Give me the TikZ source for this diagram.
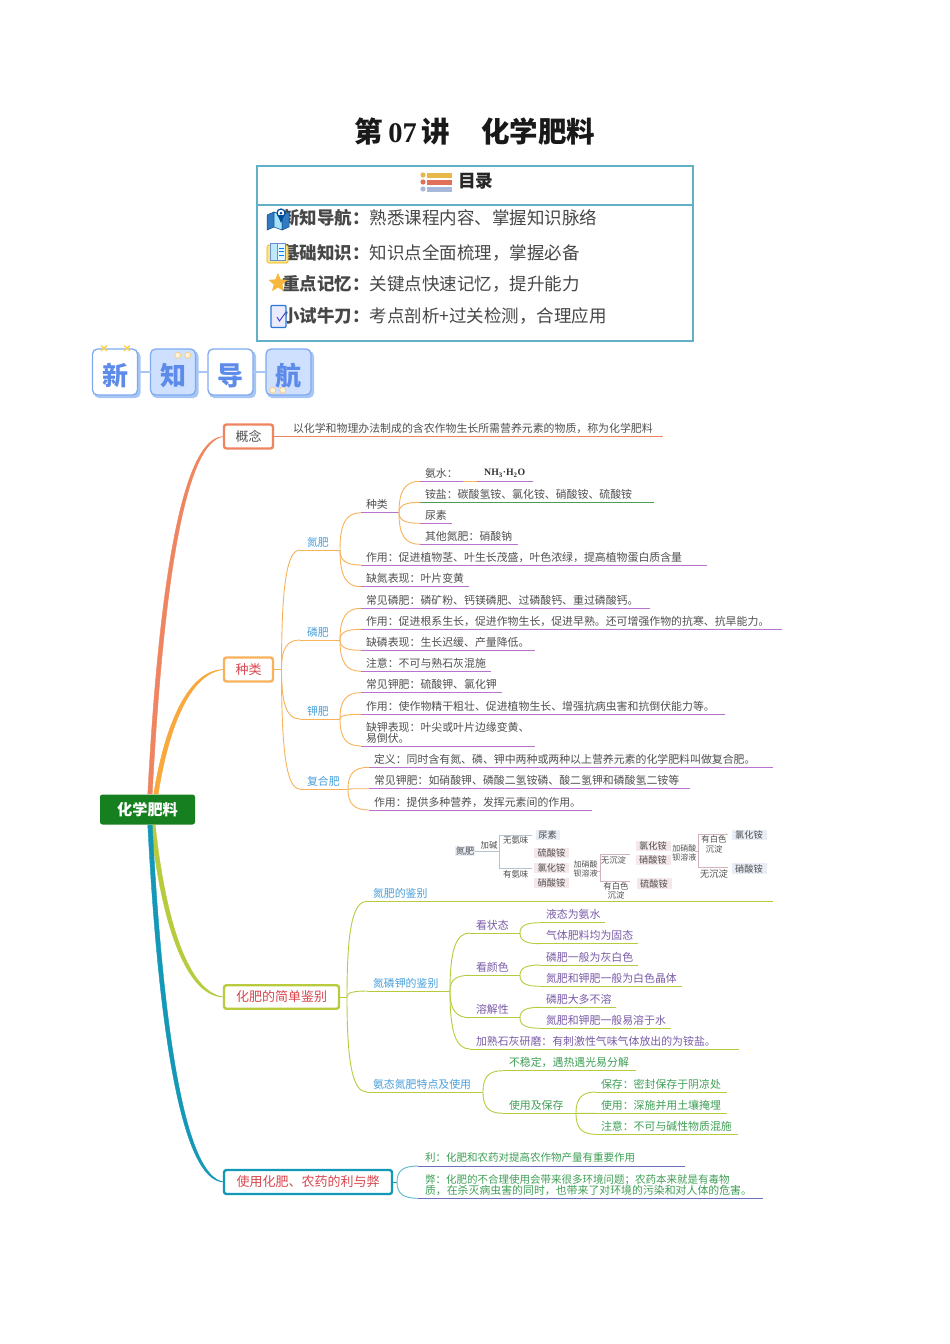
\documentclass[tikz,border=0pt]{standalone}
\usepackage{fontspec}
\setmainfont{Noto Sans CJK SC}
\newfontfamily\serifl{Liberation Serif}
\usetikzlibrary{calc,shapes.geometric}
\definecolor{cOra}{HTML}{F7B25A}
\definecolor{cOraT}{HTML}{F9A83C}
\definecolor{cRed}{HTML}{EE8560}
\definecolor{cYel}{HTML}{B7CB3C}
\definecolor{cBlu}{HTML}{1398B8}
\definecolor{cPur}{HTML}{B774CC}
\definecolor{cGrn}{HTML}{168020}
\definecolor{cTeal}{HTML}{62B0C6}
\definecolor{tGray}{HTML}{505050}
\definecolor{tBlue}{HTML}{4AA0DC}
\definecolor{tPur}{HTML}{7A5CA8}
\definecolor{tGrn}{HTML}{3F9F55}
\definecolor{tRed}{HTML}{D9464E}
\definecolor{lGrn}{HTML}{4E9C55}
\definecolor{lInd}{HTML}{6A70B8}
\definecolor{bBlue}{HTML}{E9EDF6}
\definecolor{bPink}{HTML}{F4E8EA}
\definecolor{fkA}{HTML}{B4C3D2}
\definecolor{fkB}{HTML}{D3B2B9}
\definecolor{hdB}{HTML}{7FAAF0}
\definecolor{hdS}{HTML}{A8C6F4}
\definecolor{hdF}{HTML}{CFE0FF}
\definecolor{hdT}{HTML}{5D8BEA}
\definecolor{cream}{HTML}{FFF3D8}
\definecolor{creamB}{HTML}{F3CF95}
\definecolor{barA}{HTML}{E8B84A}
\definecolor{barB}{HTML}{E0705A}
\definecolor{barC}{HTML}{A8B8DC}
\definecolor{starC}{HTML}{F6B73C}
\tikzset{
  leaftxt/.style={inner sep=0pt,outer sep=0pt,font=\fontsize{10.9}{11.2}\selectfont,align=left},
  bigbox/.style={draw,rounded corners=2.5pt,line width=2.4pt,inner sep=0pt,outer sep=0pt,fill=white,text=tRed,font=\fontsize{13}{14}\selectfont},
  chartbox/.style={inner sep=0pt,outer sep=0pt,font=\fontsize{9.2}{10}\selectfont,text=tGray},
  charttxt/.style={inner sep=0pt,outer sep=0pt,font=\fontsize{8.4}{9.6}\selectfont,text=tGray,align=center},
  hdbox/.style={draw=hdB,line width=1.3pt,rounded corners=5pt,minimum width=45pt,minimum height=46pt,inner sep=0pt,outer sep=0pt,text=hdT,text height=28pt,text depth=2pt,font=\bfseries\fontsize{26}{28}\selectfont},
  hdshadow/.style={fill=hdS,rounded corners=5pt},
  hdlink/.style={draw=hdS,line width=2.6pt},
  tocrow/.style={inner sep=0pt,outer sep=0pt,anchor=west,text=black!72,font=\fontsize{17.5}{19}\selectfont},
  dotcream/.style={fill=cream,draw=creamB,line width=.9pt},
}
% [text centre above the line] name, x0, x1, yline, xtext, text colour, line colour, text
\newcommand{\leaf}[9][8]{%
  \coordinate (#2-a) at (#3,#5);
  \coordinate (#2-b) at (#4,#5);
  \node[leaftxt,text=#7,anchor=west] (#2) at (#6,#5-#1) {#9};
  \draw[#8,line width=.9pt] (#2-a) -- (#2-b);
}
\newcommand{\bcurve}[3]{\draw[#1,line width=.9pt] (#2) .. controls ($(#2)!0.72!(#2|-#3)$) and ($(#2|-#3)!0.3!(#3)$) .. (#3);}
% colour, start, control 1, control 2, end, offset of the return curve's second control
\newcommand{\taper}[6]{%
  \filldraw[#1,line width=.4pt] ($(#2)+(-2.2,0)$) .. controls ($(#3)+(-2,0)$) and (#4) .. (#5)
     .. controls ($(#4)+(#6)$) and ($(#3)+(2.4,0)$) .. ($(#2)+(2.2,0)$) -- cycle;}
\begin{document}
\begin{tikzpicture}[x=1pt,y=-1pt]
\path[use as bounding box,fill=white] (0,0) rectangle (950,1344);
% ---------- title
\node[inner sep=0pt,font=\bfseries\fontsize{28.5}{30}\selectfont,text=black!90] (title) at (475,132)
  {第\hspace{5pt}{\serifl 07}\hspace{5pt}讲\hspace{31pt}化学肥料};
% ---------- table of contents
\node[draw=cTeal,line width=1.5pt,minimum width=436pt,minimum height=175pt,inner sep=0pt,outer sep=0pt] (toc) at (475,253.5) {};
\coordinate (tocL) at (257,205); \coordinate (tocR) at (693,205);
\draw[cTeal,line width=1.2pt] (tocL) -- (tocR);
\node[inner sep=0pt,anchor=west,font=\bfseries\fontsize{17.7}{19}\selectfont,text=black!85] (toct) at (458,181) {目录};
\fill[barA] (423,175) circle (2.6pt); \fill[barA] (427,172.5) rectangle (452,177.5);
\fill[barB] (423,182) circle (2.6pt); \fill[barB] (427,179.5) rectangle (452,184.5);
\fill[barC] (423,189) circle (2.6pt); \fill[barC] (427,186.5) rectangle (452,191.5);
\node[tocrow] (r1) at (282,218) {{\bfseries 新知导航：}熟悉课程内容、掌握知识脉络};
\node[tocrow] (r2) at (282,253) {{\bfseries 基础知识：}知识点全面梳理，掌握必备};
\node[tocrow] (r3) at (282,284) {{\bfseries 重点记忆：}关键点快速记忆，提升能力};
\node[tocrow] (r4) at (282,316) {{\bfseries 小试牛刀：}考点剖析+过关检测，合理应用};
% toc icons
\filldraw[fill=blue!50!cyan!70!black!80,draw=blue!40!cyan!50!black,line width=.5pt] (267,215) -- (274,212) -- (274,227) -- (267,230) -- cycle;
\filldraw[fill=cyan!35!white,draw=blue!40!cyan!50!black,line width=.5pt] (274,212) -- (282,215) -- (282,230) -- (274,227) -- cycle;
\filldraw[fill=blue!50!cyan!70!black!80,draw=blue!40!cyan!50!black,line width=.5pt] (282,215) -- (289,212) -- (289,227) -- (282,230) -- cycle;
\filldraw[fill=white,draw=blue!50!cyan!60!black,line width=1.2pt] (281,213) circle (4pt);
\fill[blue!50!cyan!60!black] (277.5,215) -- (284.5,215) -- (281,223) -- cycle;
\fill[blue!50!cyan!60!black] (281,213) circle (1.5pt);
\filldraw[fill=orange!40!yellow!50!white,draw=orange!50!yellow!80!gray,line width=.7pt,rounded corners=1.5pt] (267,245) rectangle (288,263);
\filldraw[fill=cyan!25!white,draw=cyan!40!blue!60,line width=.6pt] (270,243.5) rectangle (277.5,260);
\filldraw[fill=cyan!10!white,draw=cyan!40!blue!60,line width=.6pt] (277.5,243.5) rectangle (285,260);
\draw[blue!50!cyan,line width=.6pt] (279,248) -- (283.5,248) (279,251.5) -- (283.5,251.5) (279,255) -- (283.5,255);
\node[star,star points=5,star point ratio=2.2,fill=starC,inner sep=0pt,minimum size=20pt] (ic3) at (278,283) {};
\filldraw[fill=blue!8!white,draw=blue!55!cyan!70!gray,line width=1.1pt,rounded corners=1pt] (271,305.5) rectangle (286,327.5);
\draw[blue!50!gray,line width=.9pt] (277,317) -- (279.5,321) -- (286,312);
% ---------- header tiles
\fill[hdshadow] (94,351) rectangle (140.5,398);
\fill[hdshadow] (151.5,351) rectangle (198.5,398);
\fill[hdshadow] (209,351) rectangle (256,398);
\fill[hdshadow] (267,351) rectangle (314,398);
\node[hdbox,fill=white] (h1) at (115,372) {新};
\node[hdbox,fill=hdF]   (h2) at (173,372) {知};
\node[hdbox,fill=white] (h3) at (230.5,372) {导};
\node[hdbox,fill=hdF]   (h4) at (288.5,372) {航};
\draw[hdlink] (h1) -- (h2);
\draw[hdlink] (h2) -- (h3);
\draw[hdlink] (h3) -- (h4);
\draw[orange!50!yellow!70,line width=1.3pt] (101,345.5) -- (107,351) (107,345.5) -- (101,351) (124,345.5) -- (130,351) (130,345.5) -- (124,351);
\filldraw[dotcream] (177.7,355.3) circle (3pt) (187.7,355.3) circle (3pt);
\filldraw[dotcream] (272.7,390.3) circle (3pt) (282.7,390.3) circle (3pt);
% ---------- main boxes
\node[fill=cGrn,rounded corners=2.5pt,minimum width=95pt,minimum height=30pt,inner sep=0pt,outer sep=0pt,text=white,font=\bfseries\fontsize{15.2}{16}\selectfont] (root) at (147.5,809.5) {化学肥料};
\node[bigbox,draw=cRed,minimum width=49pt,minimum height=24pt,text=tGray] (bA) at (248.5,436.5) {概念};
\node[bigbox,draw=cOra,minimum width=49pt,minimum height=24pt] (bB) at (248.5,669.5) {种类};
\node[bigbox,draw=cYel,minimum width=115pt,minimum height=23.5pt] (bC) at (281.5,997) {化肥的简单鉴别};
\node[bigbox,draw=cBlu,minimum width=168pt,minimum height=24pt] (bD) at (308,1182) {使用化肥、农药的利与弊};
% main tapered branches
\coordinate (rA) at (150,794); \coordinate (rB) at (156,794);
\coordinate (rC) at (153,825); \coordinate (rD) at (150,825);
\taper{cRed}{rA}{160,600}{180,436}{bA.west}{3,4}
\taper{cOraT}{rB}{165,735}{185,669.5}{bB.west}{2.5,3.5}
\taper{cYel}{rC}{163,920}{185,997}{bC.west}{3,-4}
\taper{cBlu}{rD}{160,1020}{180,1182}{bD.west}{3.5,-5}
% ---------- concept
\leaf{a1}{274}{663}{436.7}{293}{tGray}{cRed}{以化学和物理办法制成的含农作物生长所需营养元素的物质，称为化学肥料}
% ---------- kinds
\coordinate (jB) at (281.5,669.5);
\draw[cOra,line width=.9pt] (bB.east) -- (jB);
\leaf{n0}{300}{340}{550}{307}{tBlue}{cOra}{氮肥}
\leaf{p0}{300}{340}{640}{307}{tBlue}{cOra}{磷肥}
\leaf{k0}{300}{340}{719}{307}{tBlue}{cOra}{钾肥}
\leaf{f0}{300}{348}{789}{307}{tBlue}{cOra}{复合肥}
\bcurve{cOra}{jB}{n0-a}
\bcurve{cOra}{jB}{p0-a}
\bcurve{cOra}{jB}{k0-a}
\bcurve{cOra}{jB}{f0-a}
% nitrogen
\leaf{n1}{361}{399}{512.7}{366}{tGray}{cPur}{种类}
\leaf{n2}{361}{707}{565}{366}{tGray}{cPur}{作用：促进植物茎、叶生长茂盛，叶色浓绿，提高植物蛋白质含量}
\leaf{n3}{361}{469}{586.7}{366}{tGray}{cPur}{缺氮表现：叶片变黄}
\bcurve{cOra}{n0-b}{n1-a}
\bcurve{cOra}{n0-b}{n2-a}
\bcurve{cOra}{n0-b}{n3-a}
\leaf{n11}{420}{533}{481.3}{425}{tGray}{cPur}{氨水：}
\coordinate (n11p) at (463,481.3); \coordinate (n11q) at (477,481.3);
\draw[cOra,line width=.9pt] (n11p) -- (n11q);
\node[inner sep=0pt,anchor=west,text=black!80,font=\serifl\bfseries\fontsize{9.8}{11}\selectfont] (nh3) at (484,473.5) {NH\textsubscript{3}·H\textsubscript{2}O};
\leaf{n12}{420}{654}{502.3}{425}{tGray}{lGrn}{铵盐：碳酸氢铵、氯化铵、硝酸铵、硫酸铵}
\leaf{n13}{420}{452}{523.3}{425}{tGray}{cPur}{尿素}
\leaf{n14}{420}{518}{544.3}{425}{tGray}{cPur}{其他氮肥：硝酸钠}
\bcurve{cOra}{n1-b}{n11-a}
\bcurve{cOra}{n1-b}{n12-a}
\bcurve{cOra}{n1-b}{n13-a}
\bcurve{cOra}{n1-b}{n14-a}
% phosphorus
\leaf{p1}{361}{650}{608.3}{366}{tGray}{cPur}{常见磷肥：磷矿粉、钙镁磷肥、过磷酸钙、重过磷酸钙。}
\leaf{p2}{361}{782}{629.3}{366}{tGray}{cPur}{作用：促进根系生长，促进作物生长，促进早熟。还可增强作物的抗寒、抗旱能力。}
\leaf{p3}{361}{535}{650.3}{366}{tGray}{cPur}{缺磷表现：生长迟缓、产量降低。}
\leaf{p4}{361}{491}{671.3}{366}{tGray}{cPur}{注意：不可与熟石灰混施}
\bcurve{cOra}{p0-b}{p1-a}
\bcurve{cOra}{p0-b}{p2-a}
\bcurve{cOra}{p0-b}{p3-a}
\bcurve{cOra}{p0-b}{p4-a}
% potassium
\leaf{k1}{361}{502}{692.7}{366}{tGray}{cPur}{常见钾肥：硫酸钾、氯化钾}
\leaf{k2}{361}{725}{714.3}{366}{tGray}{cPur}{作用：使作物精干粗壮、促进植物生长、增强抗病虫害和抗倒伏能力等。}
\leaf[13.5]{k3}{361}{535}{746}{366}{tGray}{cPur}{缺钾表现：叶尖或叶片边缘变黄、\\易倒伏。}
\bcurve{cOra}{k0-b}{k1-a}
\bcurve{cOra}{k0-b}{k2-a}
\bcurve{cOra}{k0-b}{k3-a}
% compound
\leaf{f1}{369}{773}{767.3}{374}{tGray}{cPur}{定义：同时含有氮、磷、钾中两种或两种以上营养元素的化学肥料叫做复合肥。}
\leaf{f2}{369}{689.5}{788.7}{374}{tGray}{cPur}{常见钾肥：如硝酸钾、磷酸二氢铵磷、酸二氢钾和磷酸氢二铵等}
\leaf{f3}{369}{591.5}{810}{374}{tGray}{cPur}{作用：提供多种营养，发挥元素间的作用。}
\bcurve{cOra}{f0-b}{f1-a}
\bcurve{cOra}{f0-b}{f2-a}
\bcurve{cOra}{f0-b}{f3-a}
% ---------- chart
\node[chartbox,fill=bBlue,minimum width=20pt,minimum height=10pt] (c0) at (465,851) {氮肥};
\node[charttxt] (c1) at (489,845.7) {加碱};
\coordinate (fk1) at (499.3,851); \coordinate (fk1t) at (532,835); \coordinate (fk1b) at (532,868);
\draw[fkA,line width=.9pt] (c0.east) -- (fk1);
\draw[fkA,line width=.9pt] (fk1t) -- (fk1t-|fk1) -- (fk1b-|fk1) -- (fk1b);
\node[charttxt] (c2) at (515.7,840.7) {无氨味};
\node[charttxt] (c3) at (515.7,874) {有氨味};
\node[chartbox,fill=bBlue,minimum width=24pt,minimum height=10.5pt] (c4) at (547.5,835) {尿素};
\node[chartbox,fill=bPink,minimum width=35pt,minimum height=10pt] (c5) at (551.5,852.7) {硫酸铵};
\node[chartbox,fill=bPink,minimum width=35pt,minimum height=10pt] (c6) at (551.5,867.7) {氯化铵};
\node[chartbox,fill=bPink,minimum width=35pt,minimum height=10pt] (c7) at (551.5,882.5) {硝酸铵};
\node[charttxt,font=\fontsize{8}{9.4}\selectfont] (c8) at (585.7,869) {加硝酸\\钡溶液};
\coordinate (fk2) at (600,871.7); \coordinate (fk2s) at (596,871.7); \coordinate (fk2t) at (630,854.3); \coordinate (fk2b) at (630,881.7);
\draw[fkB,line width=.9pt] (fk2s) -- (fk2);
\draw[fkB,line width=.9pt] (fk2t) -- (fk2t-|fk2) -- (fk2b-|fk2) -- (fk2b);
\node[charttxt] (c9) at (613.5,860) {无沉淀};
\node[charttxt] (c10) at (616,890.7) {有白色\\沉淀};
\node[chartbox,fill=bPink,minimum width=35pt,minimum height=10pt] (c11) at (653,846) {氯化铵};
\node[chartbox,fill=bPink,minimum width=35pt,minimum height=10pt] (c12) at (653,859.5) {硝酸铵};
\node[chartbox,fill=bPink,minimum width=35pt,minimum height=10.5pt] (c13) at (654,883.5) {硫酸铵};
\node[charttxt,font=\fontsize{8}{9.4}\selectfont] (c14) at (684.3,852.7) {加硝酸\\钡溶液};
\coordinate (fk3) at (698.3,851); \coordinate (fk3s) at (695,851); \coordinate (fk3t) at (728,834.3); \coordinate (fk3b) at (728,867.7);
\draw[fkB,line width=.9pt] (fk3s) -- (fk3);
\draw[fkB,line width=.9pt] (fk3t) -- (fk3t-|fk3) -- (fk3b-|fk3) -- (fk3b);
\node[charttxt] (c15) at (714,844) {有白色\\沉淀};
\node[charttxt,font=\fontsize{9.3}{10}\selectfont] (c16) at (714,874.3) {无沉淀};
\node[chartbox,fill=bBlue,minimum width=35pt,minimum height=10.5pt] (c17) at (749,835) {氯化铵};
\node[chartbox,fill=bBlue,minimum width=35pt,minimum height=10.5pt] (c18) at (749,868.7) {硝酸铵};
% ---------- identification
\coordinate (jC) at (347,997);
\draw[cYel,line width=.9pt] (bC.east) -- (jC);
\leaf{i1}{367}{773}{901.3}{373}{tBlue}{cYel}{氮肥的鉴别}
\leaf{i2}{367}{450}{991}{373}{tBlue}{cYel}{氮磷钾的鉴别}
\leaf{i3}{367}{483}{1092}{373}{tBlue}{cYel}{氨态氮肥特点及使用}
\bcurve{cYel}{jC}{i1-a}
\bcurve{cYel}{jC}{i2-a}
\bcurve{cYel}{jC}{i3-a}
\leaf{s1}{470}{520}{933}{476}{tPur}{cYel}{看状态}
\leaf{s2}{470}{520}{975.3}{476}{tPur}{cYel}{看颜色}
\leaf{s3}{470}{520}{1017.7}{476}{tPur}{cYel}{溶解性}
\leaf{s4}{470}{739}{1049}{476}{tPur}{cYel}{加熟石灰研磨：有刺激性气味气体放出的为铵盐。}
\bcurve{cYel}{i2-b}{s1-a}
\bcurve{cYel}{i2-b}{s2-a}
\bcurve{cYel}{i2-b}{s3-a}
\bcurve{cYel}{i2-b}{s4-a}
\leaf{s11}{540}{605}{922.7}{546}{tPur}{cYel}{液态为氨水}
\leaf{s12}{540}{638}{943.7}{546}{tPur}{cYel}{气体肥料均为固态}
\leaf{s21}{540}{638}{965}{546}{tPur}{cYel}{磷肥一般为灰白色}
\leaf{s22}{540}{682}{986.3}{546}{tPur}{cYel}{氮肥和钾肥一般为白色晶体}
\leaf{s31}{540}{616}{1007.3}{546}{tPur}{cYel}{磷肥大多不溶}
\leaf{s32}{540}{671}{1028.3}{546}{tPur}{cYel}{氮肥和钾肥一般易溶于水}
\bcurve{cYel}{s1-b}{s11-a}
\bcurve{cYel}{s1-b}{s12-a}
\bcurve{cYel}{s2-b}{s21-a}
\bcurve{cYel}{s2-b}{s22-a}
\bcurve{cYel}{s3-b}{s31-a}
\bcurve{cYel}{s3-b}{s32-a}
\leaf{t1}{503}{636}{1070.7}{509}{tGrn}{cYel}{不稳定，遇热遇光易分解}
\leaf{t2}{503}{576}{1113.3}{509}{tGrn}{cYel}{使用及保存}
\bcurve{cYel}{i3-b}{t1-a}
\bcurve{cYel}{i3-b}{t2-a}
\leaf{t21}{596}{727}{1092}{601}{tGrn}{cYel}{保存：密封保存于阴凉处}
\leaf{t22}{596}{727}{1113.3}{601}{tGrn}{cYel}{使用：深施并用土壤掩埋}
\leaf{t23}{596}{738}{1134.3}{601}{tGrn}{cYel}{注意：不可与碱性物质混施}
\bcurve{cYel}{t2-b}{t21-a}
\bcurve{cYel}{t2-b}{t22-a}
\bcurve{cYel}{t2-b}{t23-a}
% ---------- pros and cons
\coordinate (jD) at (397,1182);
\draw[cBlu,line width=.9pt] (bD.east) -- (jD);
\leaf{u1}{418}{685}{1166}{425}{tGrn}{lInd}{\fontsize{10.5}{11}\selectfont 利：化肥和农药对提高农作物产量有重要作用}
\leaf[13.5]{u2}{418}{763}{1198.3}{425}{tGrn}{lInd}{\fontsize{10.5}{11.2}\selectfont 弊：化肥的不合理使用会带来很多环境问题；农药本来就是有毒物\\质，在杀灭病虫害的同时，也带来了对环境的污染和对人体的危害。}
\bcurve{cBlu!70!white}{jD}{u1-a}
\bcurve{cBlu!70!white}{jD}{u2-a}
\end{tikzpicture}
\end{document}
